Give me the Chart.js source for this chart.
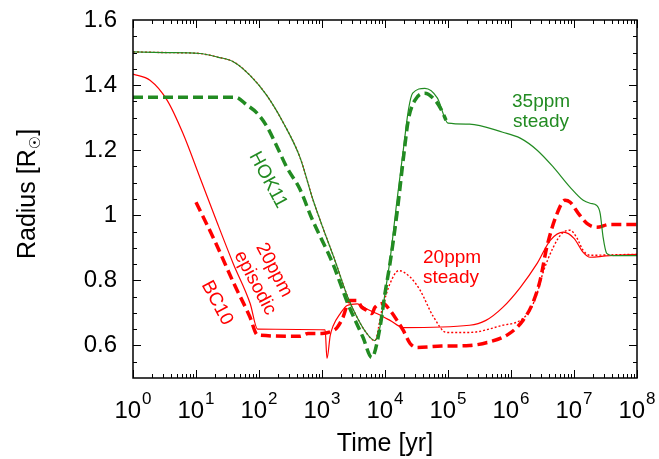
<!DOCTYPE html>
<html>
<head>
<meta charset="utf-8">
<script src="https://cdn.jsdelivr.net/npm/chart.js@4.4.1/dist/chart.umd.min.js"></script>
<style>
  html, body { margin: 0; padding: 0; background: #fff; }
  #wrap { width: 659px; height: 459px; }
</style>
</head>
<body>
<div id="wrap"><canvas id="c" width="659" height="459"></canvas></div>
<script>
// Axis ticks
const xDecades = [0, 1, 2, 3, 4, 5, 6, 7, 8];
const yTickValues = [0.6, 0.8, 1.0, 1.2, 1.4, 1.6];
const yTickLabels = ['0.6', '0.8', '1', '1.2', '1.4', '1.6'];

// 35ppm steady (thin green)
const t35 = [1, 3.2, 11.5, 22, 39, 72, 132, 245, 447, 724, 1000, 1600, 2570, 3550, 5000, 6900, 8300,
  1.0e4, 1.2e4, 1.55e4, 1.95e4, 2.35e4, 2.75e4, 4.3e4, 6.8e4, 1.0e5, 2.2e5, 7.4e5, 1.4e6, 2.6e6,
  4.7e6, 8.7e6, 1.4e7, 1.8e7, 2.3e7, 2.6e7, 2.9e7, 3.3e7, 4.2e7, 1e8];
const r35 = [1.502, 1.500, 1.497, 1.486, 1.472, 1.43, 1.369, 1.283, 1.178, 1.046, 0.969, 0.862, 0.748,
  0.689, 0.64, 0.615, 0.655, 0.76, 0.862, 1.046, 1.2, 1.323, 1.375, 1.39, 1.36, 1.283, 1.28, 1.255,
  1.237, 1.2, 1.148, 1.086, 1.046, 1.037, 1.03, 1.006, 0.932, 0.883, 0.876, 0.876];

// 20ppm steady (red dotted)
const t20s = [1, 3.2, 11.5, 22, 39, 72, 132, 245, 447, 724, 1000, 1600, 2570, 3550, 5000, 6900, 8900,
  1.2e4, 1.66e4, 2.5e4, 3.6e4, 5.8e4, 9.5e4, 2.2e5, 7.4e5, 1.4e6, 2.0e6, 2.6e6, 3.2e6, 4.7e6, 6.5e6,
  8.7e6, 1.1e7, 1.4e7, 1.8e7, 3.2e7, 1e8];
const r20s = [1.502, 1.500, 1.497, 1.486, 1.472, 1.43, 1.369, 1.283, 1.178, 1.046, 0.969, 0.862, 0.748,
  0.689, 0.64, 0.615, 0.708, 0.79, 0.83, 0.81, 0.77, 0.69, 0.64, 0.64, 0.662, 0.677, 0.708, 0.76,
  0.822, 0.902, 0.945, 0.954, 0.932, 0.892, 0.877, 0.878, 0.88];

// 20ppm episodic (thin red)
const t20e = [1, 1.86, 3.47, 6.2, 11.5, 21.4, 38.9, 72.4, 95, 1120, 1200, 1350, 1500, 1950, 2500, 3630,
  5130, 7400, 1.2e4, 1.95e4, 2.2e5, 4.0e5, 7.4e5, 1.4e6, 2.6e6, 4.2e6, 6.8e6, 1e7, 1.4e7, 1.8e7, 3.2e7, 1e8];
const r20e = [1.434, 1.415, 1.354, 1.252, 1.117, 0.98, 0.852, 0.729, 0.65, 0.648, 0.56, 0.63, 0.66,
  0.698, 0.723, 0.728, 0.712, 0.698, 0.677, 0.655, 0.662, 0.677, 0.717, 0.778, 0.852, 0.923, 0.948,
  0.929, 0.886, 0.871, 0.875, 0.88];

// BC10 (thick red dashed)
const tBC = [10, 20, 40, 71, 95, 447, 600, 1000, 1580, 1740, 2140, 2750, 3630, 4270, 5130, 6170, 6920,
  9330, 1.2e4, 1.55e4, 1.95e4, 2.5e4, 3.2e4, 7.9e4, 2.2e5, 4.2e5, 9.5e5, 1.55e6, 2.2e6, 2.9e6, 3.7e6,
  5.4e6, 7.2e6, 8.7e6, 1.17e7, 1.6e7, 2.3e7, 3.7e7, 1e8];
const rBC = [1.04, 0.92, 0.79, 0.69, 0.632, 0.628, 0.637, 0.637, 0.648, 0.655, 0.685, 0.738, 0.738,
  0.717, 0.708, 0.698, 0.717, 0.729, 0.708, 0.677, 0.646, 0.606, 0.594, 0.598, 0.6, 0.609, 0.637,
  0.677, 0.729, 0.8, 0.902, 1.006, 1.046, 1.04, 1.006, 0.975, 0.963, 0.972, 0.972];

// HOK11 (thick green dashed)
const tHOK = [1, 42, 65, 93, 135, 195, 275, 447, 690, 1480, 2570, 4470, 6170, 8320, 1e4, 1.2e4, 1.55e4,
  2.0e4, 2.34e4, 3.0e4, 4.27e4, 6.2e4, 7.9e4, 9.3e4];
const rHOK = [1.363, 1.363, 1.338, 1.314, 1.271, 1.209, 1.148, 1.08, 0.99, 0.852, 0.729, 0.625, 0.563,
  0.655, 0.76, 0.852, 1.006, 1.19, 1.292, 1.354, 1.375, 1.354, 1.323, 1.292];

const GREEN = '#228b22';
const RED = '#ff0000';
const FONT = '"Liberation Sans", Arial, Helvetica, sans-serif';

const pts = (ts, rs) => ts.map((t, i) => ({ x: t, y: rs[i] }));

function line(label, ts, rs, color, width, dash) {
  return {
    label, data: pts(ts, rs), borderColor: color, borderWidth: width, borderDash: dash || [],
    pointRadius: 0, fill: false, cubicInterpolationMode: 'monotone', borderCapStyle: 'butt'
  };
}

function drawText(ctx, text, x, y, size, color, align, angle) {
  ctx.save();
  ctx.translate(x, y);
  if (angle) ctx.rotate(angle);
  ctx.font = size + 'px ' + FONT;
  ctx.fillStyle = color;
  ctx.textAlign = align || 'left';
  ctx.textBaseline = 'middle';
  ctx.fillText(text, 0, 0);
  ctx.restore();
}

const framePlugin = {
  id: 'frameAndLabels',
  afterDatasetsDraw(chart) {
    const { ctx, chartArea: a, scales: { x, y } } = chart;
    ctx.save();
    ctx.strokeStyle = '#000';
    ctx.lineWidth = 1;
    ctx.beginPath();
    // log-axis ticks, pointing inward on bottom and top
    xDecades.forEach(e => {
      for (let m = 1; m < 10; m++) {
        if (e === xDecades[xDecades.length - 1] && m > 1) break;
        const px = Math.round(x.getPixelForValue(m * Math.pow(10, e))) + 0.5;
        const len = m === 1 ? 8 : 4;
        ctx.moveTo(px, a.bottom); ctx.lineTo(px, a.bottom - len);
        ctx.moveTo(px, a.top); ctx.lineTo(px, a.top + len);
      }
    });
    // radius ticks every 0.05, longer on labelled values
    for (let i = 1; i < 22; i++) {
      const v = 0.5 + i * 0.05;
      const major = yTickValues.some(t => Math.abs(t - v) < 1e-6);
      const py = Math.round(y.getPixelForValue(v)) + 0.5;
      const len = major ? 8 : 4;
      ctx.moveTo(a.left, py); ctx.lineTo(a.left + len, py);
      ctx.moveTo(a.right, py); ctx.lineTo(a.right - len, py);
    }
    ctx.stroke();
    ctx.lineWidth = 1.5;
    ctx.strokeRect(a.left, a.top, a.right - a.left, a.bottom - a.top);

    // y tick labels
    yTickValues.forEach((v, i) => {
      drawText(ctx, yTickLabels[i], a.left - 16, y.getPixelForValue(v), 24, '#000', 'right');
    });

    // x tick labels 10^n
    xDecades.forEach(e => {
      const px = x.getPixelForValue(Math.pow(10, e));
      ctx.font = '24px ' + FONT;
      const wb = ctx.measureText('10').width;
      ctx.font = '17px ' + FONT;
      const we = ctx.measureText(String(e)).width;
      const x0 = px - (wb + we + 1) / 2;
      ctx.fillStyle = '#000';
      ctx.textAlign = 'left';
      ctx.textBaseline = 'alphabetic';
      ctx.font = '24px ' + FONT;
      ctx.fillText('10', x0, a.bottom + 40);
      ctx.font = '17px ' + FONT;
      ctx.fillText(String(e), x0 + wb + 1, a.bottom + 26);
    });

    // axis titles
    ctx.font = '25px ' + FONT;
    ctx.textAlign = 'center';
    ctx.textBaseline = 'alphabetic';
    ctx.fillText('Time [yr]', (a.left + a.right) / 2, 451);

    ctx.save();
    ctx.translate(35, 194);
    ctx.rotate(-Math.PI / 2);
    ctx.textAlign = 'left';
    ctx.font = '25px ' + FONT;
    const s1 = 'Radius [R';
    const w1 = ctx.measureText(s1).width;
    ctx.font = '15px "DejaVu Sans", sans-serif';
    const w2 = ctx.measureText('\u2609').width;
    ctx.font = '25px ' + FONT;
    const w3 = ctx.measureText(']').width;
    const start = -(w1 + w2 + w3) / 2;
    ctx.fillText(s1, start, 0);
    ctx.font = '15px "DejaVu Sans", sans-serif';
    ctx.fillText('\u2609', start + w1, 5);
    ctx.font = '25px ' + FONT;
    ctx.fillText(']', start + w1 + w2, 0);
    ctx.restore();

    // curve annotations
    const ang = 62 * Math.PI / 180;
    drawText(ctx, '35ppm', 512, 102, 19, GREEN, 'left');
    drawText(ctx, 'steady', 513, 122, 19, GREEN, 'left');
    drawText(ctx, '20ppm', 423, 258, 19, RED, 'left');
    drawText(ctx, 'steady', 423, 278, 19, RED, 'left');
    drawText(ctx, 'HOK11', 268, 180, 19, GREEN, 'center', ang);
    drawText(ctx, '20ppm', 274, 270, 19, RED, 'center', ang);
    drawText(ctx, 'episodic', 255, 283, 19, RED, 'center', ang);
    drawText(ctx, 'BC10', 217, 303, 19, RED, 'center', ang);
    ctx.restore();
  }
};

new Chart(document.getElementById('c'), {
  type: 'line',
  data: {
    datasets: [
      line('HOK11', tHOK, rHOK, GREEN, 3.5, [10, 5]),
      line('35ppm steady', t35, r35, GREEN, 1.2),
      line('20ppm steady', t20s, r20s, RED, 1.4, [2, 2]),
      line('20ppm episodic', t20e, r20e, RED, 1.2),
      line('BC10', tBC, rBC, RED, 3.5, [10, 5])
    ]
  },
  options: {
    responsive: false,
    animation: false,
    devicePixelRatio: 1,
    layout: { padding: { left: 133, right: 22, top: 20, bottom: 81 } },
    plugins: { legend: { display: false }, tooltip: { enabled: false } },
    scales: {
      x: { type: 'logarithmic', min: 1, max: 1e8, display: false },
      y: { type: 'linear', min: 0.5, max: 1.6, display: false }
    }
  },
  plugins: [framePlugin]
});
</script>
</body>
</html>
